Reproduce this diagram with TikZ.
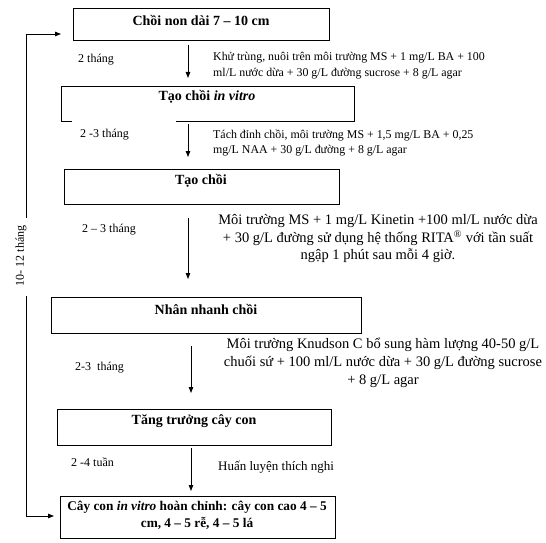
\documentclass[tikz,border=0pt]{standalone}
\usepackage{fontspec}
\setmainfont{Liberation Serif}
\usetikzlibrary{arrows.meta}
\begin{document}
\begin{tikzpicture}[x=1pt,y=-1pt,
  box/.style={draw, line width=1pt, inner sep=0pt, outer sep=0pt, anchor=north west},
  ttl/.style={font=\fontsize{14}{17}\selectfont\bfseries, inner sep=0pt, align=center},
  note/.style={font=\fontsize{11.9}{15.5}\selectfont, inner sep=0pt, anchor=west, align=left},
  bignote/.style={font=\fontsize{14.5}{17.5}\selectfont, inner sep=0pt, align=center},
  dur/.style={font=\fontsize{12}{14}\selectfont, inner sep=0pt, anchor=west},
  conn/.style={line width=0.9pt, -{Triangle[length=6pt,width=4.5pt]}}]
\useasboundingbox (0,0) rectangle (546,543);
% boxes
\node[box, minimum width=256pt, minimum height=32pt] (b1) at (73,9) {};
\node[inner sep=0pt, outer sep=0pt, anchor=north west, minimum width=293pt, minimum height=35pt] (b2) at (61,86) {};
\draw[line width=1pt] ([xshift=11pt]b2.south west) -- (b2.south west) -- (b2.north west) -- (b2.north east) -- (b2.south east) -- ([xshift=115pt]b2.south west);
\node[box, minimum width=275pt, minimum height=35pt] (b3) at (64,169) {};
\node[box, minimum width=310pt, minimum height=36pt] (b4) at (51,297) {};
\node[box, minimum width=274pt, minimum height=36pt] (b5) at (57,409) {};
\node[box, minimum width=275pt, minimum height=42pt] (b6) at (60,496) {};
% titles
\node[ttl] (t1) at (201,20) {Chồi non dài 7 – 10 cm};
\node[ttl] (t2) at (207,97) {Tạo chồi \textit{in vitro}};
\node[ttl] (t3) at (201,181) {Tạo chồi};
\node[ttl] (t4) at (206,309) {Nhân nhanh chồi};
\node[ttl] (t5) at (194,421) {Tăng trưởng cây con};
\node[ttl, font=\fontsize{13.3}{17}\selectfont\bfseries] (t6) at (197,515) {Cây con \textit{in vitro} hoàn chỉnh: cây con cao 4 – 5\\cm, 4 – 5 rễ, 4 – 5 lá};
% vertical arrows
\coordinate (a1s) at (188,45); \coordinate (a1e) at (188,78);
\coordinate (a2s) at (188,124); \coordinate (a2e) at (188,157);
\coordinate (a3s) at (188,218); \coordinate (a3e) at (188,279);
\coordinate (a4s) at (191,346); \coordinate (a4e) at (191,393);
\coordinate (a5s) at (191,448); \coordinate (a5e) at (191,491);
\draw[conn] (a1s) -- (a1e);
\draw[conn] (a2s) -- (a2e);
\draw[conn] (a3s) -- (a3e);
\draw[conn] (a4s) -- (a4e);
\draw[conn] (a5s) -- (a5e);
% durations
\node[dur] (d1) at (78,60) {2 tháng};
\node[dur] (d2) at (80,135) {2 -3 tháng};
\node[dur] (d3) at (82,230) {2 – 3 tháng};
\node[dur] (d4) at (75,368) {2-3 \ tháng};
\node[dur] (d5) at (71,462) {2 -4 tuần};
% notes
\node[note] (n1) at (213,65.5) {Khử trùng, nuôi trên môi trường MS + 1 mg/L BA + 100\\ml/L nước dừa + 30 g/L đường sucrose + 8 g/L agar};
\node[note] (n2) at (213,143) {Tách đỉnh chồi, môi trường MS + 1,5 mg/L BA + 0,25\\mg/L NAA + 30 g/L đường + 8 g/L agar};
\node[bignote] (n3) at (378,239) {Môi trường MS + 1 mg/L Kinetin +100 ml/L nước dừa\\+ 30 g/L đường sử dụng hệ thống RITA\textsuperscript{®} với tần suất\\ngập 1 phút sau mỗi 4 giờ.};
\node[bignote, font=\fontsize{14.5}{18}\selectfont] (n4) at (383,363) {Môi trường Knudson C bổ sung hàm lượng 40-50 g/L\\chuối sứ + 100 ml/L nước dừa + 30 g/L đường sucrose\\+ 8 g/L agar};
\node[note, font=\fontsize{13}{15}\selectfont] (n5) at (218,467) {Huấn luyện thích nghi};
% loop
\coordinate (ltop) at (26,34);
\coordinate (lbot) at (26,516);
\coordinate (g1) at (26,218);
\coordinate (g2) at (26,296);
\coordinate (tipT) at (61,34);
\coordinate (tipB) at (54,516);
\node[rotate=90, font=\fontsize{12}{14}\selectfont, inner sep=0pt] (lab) at (21,256) {10- 12 tháng};
\draw[line width=0.9pt] (g1) -- (ltop);
\draw[conn] (ltop) -- (tipT);
\draw[line width=0.9pt] (g2) -- (lbot);
\draw[conn] (lbot) -- (tipB);
\end{tikzpicture}
\end{document}
